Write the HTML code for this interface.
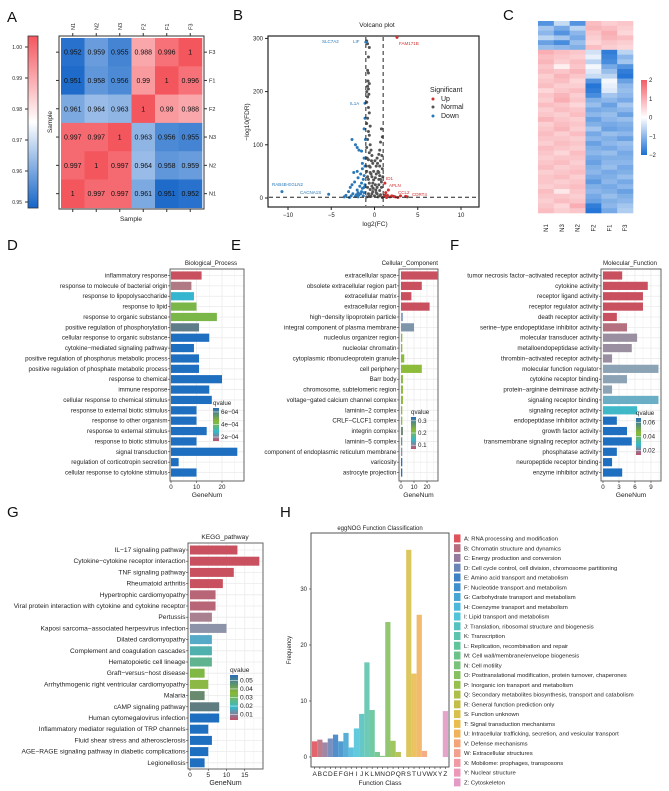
<!DOCTYPE html>
<html><head><meta charset="utf-8"><style>
html,body{margin:0;padding:0;background:#fff;}
svg{display:block;font-family:"Liberation Sans",Arial,sans-serif;}
</style></head><body>
<svg id="fig" width="669" height="791" viewBox="0 0 669 791" xmlns="http://www.w3.org/2000/svg">
<defs>
<linearGradient id="qgrad" x1="0" y1="0" x2="0" y2="1">
<stop offset="0" stop-color="#2b6cb3"/><stop offset="0.4" stop-color="#8ab832"/><stop offset="0.72" stop-color="#35b8cc"/><stop offset="1" stop-color="#c4506a"/>
</linearGradient>
<linearGradient id="agrad" x1="0" y1="1" x2="0" y2="0">
<stop offset="0" stop-color="#1565c8"/><stop offset="0.5" stop-color="#ffffff"/><stop offset="1" stop-color="#f4565e"/>
</linearGradient>
<linearGradient id="cgrad" x1="0" y1="1" x2="0" y2="0">
<stop offset="0" stop-color="#1a6fd4"/><stop offset="0.5" stop-color="#ffffff"/><stop offset="1" stop-color="#f25c66"/>
</linearGradient>
</defs>
<g font-size="15" fill="#111">
<text x="7" y="22">A</text>
<text x="233" y="20">B</text>
<text x="503" y="20">C</text>
<text x="7" y="250">D</text>
<text x="231" y="250">E</text>
<text x="450" y="250">F</text>
<text x="7" y="517">G</text>
<text x="280" y="517">H</text>
</g>
</svg>
<script>
// ===== Panel A data =====
const aSamplesCols = ['N1','N2','N3','F2','F1','F3'];
const aSamplesRows = ['F3','F1','F2','N3','N2','N1'];
const aMatrix = [
[0.952,0.959,0.955,0.988,0.996,1],
[0.951,0.958,0.956,0.99,1,0.996],
[0.961,0.964,0.963,1,0.99,0.988],
[0.997,0.997,1,0.963,0.956,0.955],
[0.997,1,0.997,0.964,0.958,0.959],
[1,0.997,0.997,0.961,0.951,0.952]];
const aTicks = [0.95,0.96,0.97,0.98,0.99,1.00];
// ===== Panel B data =====
const bNormal = [[-0.9,295],[-0.8,290],[-0.6,283],[-0.7,265],[-0.8,240],[-0.7,235],[-0.75,220],[-0.6,215],[-0.8,210],[-0.7,205],[-0.9,200],[-0.65,195],[-0.8,190],[-0.9,180],[-0.7,170],[-0.6,160],[-0.8,150],[-0.9,140],[-0.5,135],[-0.7,125],[-0.6,118],[0.8,130],[0.9,115],[0.7,105],[-0.8,110],[-0.5,100],[-0.9,95],[-0.4,90],[0.6,90],[0.5,82],[-0.6,85],[-0.3,80],[0.3,75],[-0.7,72],[0.7,70],[-0.2,65],[0.2,60],[0.9,55],[-0.5,58],[0.4,50],[-0.4,45],[0.6,42],[-0.8,40],[0.1,38],[-0.1,34],[0.8,30],[-0.6,28],[0.5,25],[-0.3,22],[0.3,20],[-0.5,16],[0.6,14],[-0.2,12],[0.2,10],[-0.7,8],[0.7,6],[0,4],[-0.4,3],[0.4,2],[0.9,1],[-0.9,2],[0.1,25],[-0.1,50],[0.05,70],[1.2,5],[3.8,2],[2.2,3],[0.5,35],[-0.3,40],[0.15,15],[-0.15,18],[-0.6,60],[0.6,60],[-0.5,48],[0.5,48],[-0.7,35],[0.7,35],[-0.8,20],[0.8,20],[-0.3,8],[0.3,8],[-0.6,4],[0.6,4],[0.2,45],[-0.2,28],[0.85,80],[-0.85,75],[-0.95,60],[0.95,40],[-0.9,50],[0.35,65],[-0.35,70]];
const bDown = [[-1.0,293],[-1.1,178],[-2.6,110],[-2.2,100],[-2.0,95],[-1.8,90],[-1.5,88],[-1.2,75],[-1.4,65],[-2.0,50],[-2.4,48],[-1.6,45],[-1.2,42],[-1.9,38],[-1.3,35],[-2.3,30],[-1.5,28],[-1.7,22],[-2.8,20],[-1.2,20],[-2.0,15],[-3.0,12],[-1.5,12],[-2.5,8],[-3.3,5],[-1.8,6],[-1.3,4],[-2.2,3],[-3.5,2],[-2.9,1],[-10.7,12],[-5.3,7],[-1.1,150],[-1.2,130],[-1.05,110],[-1.1,60],[-1.4,55],[-2.6,25],[-1.9,10],[-1.4,18],[-1.6,8],[-2.1,6],[-1.2,10],[-2.7,4],[-1.9,2],[-1.1,25]];
const bUp = [[2.6,302],[1.2,28],[1.6,15],[3.6,3],[1.3,10],[1.5,5],[2,4],[1.8,2],[2.4,2],[1.1,3],[3.0,4],[2.7,1],[1.4,1]];
const bXTicks = [-10,-5,0,5,10];
const bYTicks = [0,100,200,300];
// ===== Panel C data (cols N1,N3,N2,F2,F1,F3) =====
const cCols = ['N1','N3','N2','F2','F1','F3'];
const cRows = [
[-1.5,-0.5,-1.5,0.8,0.6,0.7],[-0.8,-1.2,-0.6,0.9,0.8,0.6],[-1.0,-1.5,-1.0,0.7,1.0,0.5],[-0.6,-0.8,-1.2,0.6,0.9,0.8],[-1.3,-1.6,-0.9,0.5,0.7,0.6],[-0.9,-1.0,-1.1,0.8,0.6,0.5],
[1.0,0.8,0.7,-0.4,-1.8,-0.6],[0.8,0.7,0.6,-0.2,-1.7,-1.0],[0.9,0.6,0.8,-0.6,-1.6,-0.8],[0.7,0.2,0.7,-0.1,-1.2,-1.5],[0.8,0.7,0.9,-0.3,-0.9,-1.8],[0.6,0.9,0.7,-0.5,-0.6,-1.9],
[0.7,0.8,0.5,-1.5,-0.1,-1.3],[0.8,0.6,0.6,-1.9,-0.2,-1.0],[0.5,0.7,0.8,-1.8,-0.3,-0.9],[0.7,0.9,0.6,-1.6,-0.8,-1.0],[0.6,1.0,0.7,-1.1,-1.0,-1.2],[0.8,0.7,0.5,-0.9,-1.3,-0.8],
[0.6,0.8,0.7,-1.2,-1.1,-1.0],[0.7,0.6,0.8,-1.0,-0.9,-1.3],[0.9,0.7,0.6,-1.3,-1.0,-0.9],[0.6,0.8,0.7,-1.1,-1.2,-1.1],[0.7,0.9,0.6,-0.8,-1.3,-1.2],[0.8,0.6,0.8,-1.2,-0.9,-1.0],
[0.7,0.7,0.6,-1.0,-1.1,-1.3],[0.6,0.8,0.7,-1.3,-1.0,-0.9],[0.8,0.7,0.6,-1.1,-1.2,-1.0],[0.7,0.5,0.8,-1.0,-0.9,-1.2],[0.6,0.7,0.7,-1.2,-1.1,-1.1],[0.7,0.8,0.6,-1.3,-1.0,-1.0],
[0.8,0.6,0.7,-1.1,-0.9,-1.2],[0.6,0.7,0.8,-1.0,-1.2,-1.1],[0.7,0.8,0.6,-1.2,-1.1,-0.9],[0.7,0.6,0.7,-1.4,-1.0,-1.2],[0.6,0.7,0.8,-1.1,-1.2,-1.0],[0.8,0.3,0.7,-1.0,-1.1,-1.3],
[0.7,0.7,0.6,-1.2,-0.9,-1.1],[0.6,0.8,0.7,-1.3,-1.1,-1.0],[0.7,0.5,1.0,-1.8,-1.0,-0.8],[0.8,0.6,0.7,-1.9,-1.2,-0.7]];
const cTicks = [-2,-1,0,1,2];
// ===== Panel D =====
const dLabels = ['inflammatory response','response to molecule of bacterial origin','response to lipopolysaccharide','response to lipid','response to organic substance','positive regulation of phosphorylation','cellular response to organic substance','cytokine\u2212mediated signaling pathway','positive regulation of phosphorus metabolic process','positive regulation of phosphate metabolic process','response to chemical','immune response','cellular response to chemical stimulus','response to external biotic stimulus','response to other organism','response to external stimulus','response to biotic stimulus','signal transduction','regulation of corticotropin secretion','cellular response to cytokine stimulus'];
const dValues = [12,8,9,10,18,11,15,9,11,11,20,15,16,10,10,14,10,26,3,10];
const dColors = ['#c9505f','#b07a85','#35b5d0','#7ab648','#7ab648','#5f7d88','#1e6fc0','#1e6fc0','#1e6fc0','#1e6fc0','#1e6fc0','#1e6fc0','#1e6fc0','#1e6fc0','#1e6fc0','#1e6fc0','#1e6fc0','#1e6fc0','#1e6fc0','#1e6fc0'];
const dTicks = [0,10,20];
const dLegend = ['6e\u221204','4e\u221204','2e\u221204'];
// ===== Panel E =====
const eLabels = ['extracellular space','obsolete extracellular region part','extracellular matrix','extracellular region','high\u2212density lipoprotein particle','integral component of plasma membrane','nucleolus organizer region','nucleolar chromatin','cytoplasmic ribonucleoprotein granule','cell periphery','Barr body','chromosome, subtelomeric region','voltage\u2212gated calcium channel complex','laminin\u22122 complex','CRLF\u2212CLCF1 complex','integrin complex','laminin\u22125 complex','component of endoplasmic reticulum membrane','varicosity','astrocyte projection'];
const eValues = [28,16,8,22,1.5,10,1,1,2.5,16,1.5,1.5,1.5,1,1,1.5,1,1,1,1];
const eColors = ['#c9505f','#c9505f','#c9505f','#c9505f','#8fa3c0','#7f95aa','#8dbb3a','#8dbb3a','#8dbb3a','#8dbb3a','#8dbb3a','#8dbb3a','#8dbb3a','#8dbb3a','#8dbb3a','#6f8a78','#6a8f92','#7f95aa','#2a70c0','#2a70c0'];
const eTicks = [0,10,20];
const eLegend = ['0.3','0.2','0.1'];
// ===== Panel F =====
const fLabels = ['tumor necrosis factor\u2212activated receptor activity','cytokine activity','receptor ligand activity','receptor regulator activity','death receptor activity','serine\u2212type endopeptidase inhibitor activity','molecular transducer activity','metalloendopeptidase activity','thrombin\u2212activated receptor activity','molecular function regulator','cytokine receptor binding','protein\u2212arginine deiminase activity','signaling receptor binding','signaling receptor activity','endopeptidase inhibitor activity','growth factor activity','transmembrane signaling receptor activity','phosphatase activity','neuropeptide receptor binding','enzyme inhibitor activity'];
const fValues = [3.6,8.4,7.5,7.5,2.6,4.5,6.4,5.4,1.7,10.4,4.5,1.7,10.4,6.4,2.6,4.5,5.4,2.6,1.7,3.6];
const fColors = ['#c9505f','#c9505f','#c9505f','#c9505f','#c9505f','#b5707f','#9a8fa0','#9a8fa0','#9a8fa0','#8ba3b5','#8ba3b5','#8ba3b5','#6aaec5','#3fb8c8','#1e6fc0','#1e6fc0','#1e6fc0','#1e6fc0','#1e6fc0','#1e6fc0'];
const fTicks = [0,3,6,9];
const fLegend = ['0.06','0.04','0.02'];
// ===== Panel G =====
const gLabels = ['IL\u221217 signaling pathway','Cytokine\u2212cytokine receptor interaction','TNF signaling pathway','Rheumatoid arthritis','Hypertrophic cardiomyopathy','Viral protein interaction with cytokine and cytokine receptor','Pertussis','Kaposi sarcoma\u2212associated herpesvirus infection','Dilated cardiomyopathy','Complement and coagulation cascades','Hematopoietic cell lineage','Graft\u2212versus\u2212host disease','Arrhythmogenic right ventricular cardiomyopathy','Malaria','cAMP signaling pathway','Human cytomegalovirus infection','Inflammatory mediator regulation of TRP channels','Fluid shear stress and atherosclerosis','AGE\u2212RAGE signaling pathway in diabetic complications','Legionellosis'];
const gValues = [13,19,12,9,7,7,6,10,6,6,6,4,5,4,8,8,5,6,5,4];
const gColors = ['#c9505f','#c9505f','#c9505f','#c9505f','#b86577','#b86577','#a88090','#8d93a8','#55aac8','#4fb0ad','#5fb38f','#7fb844','#8cb845','#6a8a70','#5f7d80','#1e6fc0','#1e6fc0','#1e6fc0','#1e6fc0','#1e6fc0'];
const gTicks = [0,5,10,15];
const gLegend = ['0.05','0.04','0.03','0.02','0.01'];
// ===== Panel H =====
const hClasses = ['A','B','C','D','E','F','G','H','I','J','K','L','M','N','O','P','Q','R','S','T','U','V','W','X','Y','Z'];
const hValues = [2.8,3.1,2.6,3.3,4,2.8,4.3,1.7,5.1,7.7,16.9,8.4,0.9,0.2,24.1,2.9,0.9,0,37,14.9,25.4,1.1,0,0,0,8.2];
const hNames = ['RNA processing and modification','Chromatin structure and dynamics','Energy production and conversion','Cell cycle control, cell division, chromosome partitioning','Amino acid transport and metabolism','Nucleotide transport and metabolism','Carbohydrate transport and metabolism','Coenzyme transport and metabolism','Lipid transport and metabolism','Translation, ribosomal structure and biogenesis','Transcription','Replication, recombination and repair','Cell wall/membrane/envelope biogenesis','Cell motility','Posttranslational modification, protein turnover, chaperones','Inorganic ion transport and metabolism','Secondary metabolites biosynthesis, transport and catabolism','General function prediction only','Function unknown','Signal transduction mechanisms','Intracellular trafficking, secretion, and vesicular transport','Defense mechanisms','Extracellular structures','Mobilome: prophages, transposons','Nuclear structure','Cytoskeleton'];
const hColors = ['#e0535d','#b86e7e','#957a9e','#6b85b8','#3d82c6','#3e90cc','#45a5d3','#4db8dc','#50c4d8','#55c2c0','#5cc4ae','#62c49a','#6cc38a','#79c37a','#86c060','#97c04d','#aebe48','#c4bd4a','#d8c04c','#e9bc4f','#f0b35c','#f3a47a','#f4a08e','#f09aa6','#ec98b8','#e39ac4'];
const hTicks = [0,10,20,30];

const NS='http://www.w3.org/2000/svg';
const svg=document.getElementById('fig');
function mk(tag,attrs,parent){const e=document.createElementNS(NS,tag);for(const k in attrs)e.setAttribute(k,attrs[k]);(parent||svg).appendChild(e);return e;}
function txt(x,y,s,size,extra,parent){const t=mk('text',Object.assign({x:x,y:y,'font-size':size,fill:'#222'},extra||{}),parent);t.textContent=s;return t;}
function lerp(a,b,t){return a+(b-a)*t;}
function hex(c){return [parseInt(c.slice(1,3),16),parseInt(c.slice(3,5),16),parseInt(c.slice(5,7),16)];}
function div(v,lo,hi,cLo,cHi){let t=(v-lo)/(hi-lo);t=Math.max(0,Math.min(1,t));const w=[255,255,255];let a,b,u;if(t<0.5){a=hex(cLo);b=w;u=t/0.5;}else{a=w;b=hex(cHi);u=(t-0.5)/0.5;}return 'rgb('+[0,1,2].map(i=>Math.round(lerp(a[i],b[i],u))).join(',')+')';}

// ===== Panel A =====
(function(){
const g=mk('g',{});


const X0=61,Y0=38,W=23.5,H=28.3;
mk('rect',{x:59,y:36,width:145,height:173,fill:'#fff',stroke:'#333','stroke-width':1},g);
aMatrix.forEach((row,r)=>row.forEach((v,c)=>{
 const rc=mk('rect',{x:X0+c*W,y:Y0+r*H,width:W+0.3,height:H+0.3,fill:div(v,0.95,1.0,'#1565c8','#f4565e')},g);
 
 
 txt(X0+c*W+W/2,Y0+r*H+H/2+2.5,String(v),7,{'text-anchor':'middle',fill:'#111'},g);
}));
aSamplesCols.forEach((s,c)=>{const x=X0+c*W+W/2;mk('line',{x1:x,y1:209,x2:x,y2:212,stroke:'#333'},g);mk('line',{x1:x,y1:33,x2:x,y2:36,stroke:'#333'},g);
 txt(x+2,30,s,5.5,{transform:'rotate(-90 '+(x+2)+' 30)'},g);});
aSamplesRows.forEach((s,r)=>{const y=Y0+r*H+H/2;mk('line',{x1:204,y1:y,x2:207,y2:y,stroke:'#333'},g);mk('line',{x1:56,y1:y,x2:59,y2:y,stroke:'#333'},g);txt(209,y+2,s,5.5,{},g);});
txt(131,221,'Sample',6.5,{'text-anchor':'middle'},g);
txt(52,122,'Sample',6.5,{'text-anchor':'middle',transform:'rotate(-90 52 122)'},g);
const cb=mk('rect',{x:28,y:36,width:10,height:172,fill:'url(#agrad)',stroke:'#333','stroke-width':0.8},g);


aTicks.forEach(t=>{const y=202-(t-0.95)/0.05*155;mk('line',{x1:25,y1:y,x2:28,y2:y,stroke:'#333'},g);txt(22,y+2,t.toFixed(2),5,{'text-anchor':'end'},g);});
})();

// ===== Panel B =====
(function(){
const g=mk('g',{});


const sx=v=>374.5+v*8.65, sy=v=>198-v*0.532;
mk('rect',{x:268,y:36,width:211,height:171,fill:'#fff',stroke:'#222','stroke-width':1.2},g);
txt(377,27,'Volcano plot',6.5,{'text-anchor':'middle'},g);
function pts(arr,col,name){arr.forEach(p=>{const c=mk('circle',{cx:sx(p[0]),cy:sy(p[1]),r:1.5,fill:col},g);});}
pts(bNormal,'#555555','normal-gene-point');
pts(bDown,'#2a78b8','down-gene-point');
pts(bUp,'#d0302e','up-gene-point');
mk('line',{x1:sx(-1),y1:37,x2:sx(-1),y2:206,stroke:'#222','stroke-dasharray':'4 3'},g);
mk('line',{x1:sx(1),y1:37,x2:sx(1),y2:206,stroke:'#222','stroke-dasharray':'4 3'},g);
mk('line',{x1:269,y1:sy(1.3),x2:478,y2:sy(1.3),stroke:'#222','stroke-dasharray':'4 3'},g);
bXTicks.forEach(t=>{const x=sx(t);mk('line',{x1:x,y1:207,x2:x,y2:210,stroke:'#222'},g);txt(x,217,t<0?'\u2212'+(-t):String(t),6,{'text-anchor':'middle'},g);});
bYTicks.forEach(t=>{const y=sy(t);mk('line',{x1:265,y1:y,x2:268,y2:y,stroke:'#222'},g);txt(263,y+2,String(t),6,{'text-anchor':'end'},g);});
txt(375,226,'log2(FC)',6.5,{'text-anchor':'middle'},g);
txt(249,122,'\u2212log10(FDR)',6.5,{'text-anchor':'middle',transform:'rotate(-90 249 122)'},g);
[['SLC7A2',322,43,'#2a78b8'],['LIF',353,43,'#2a78b8'],['FAM171B',399,45,'#d0302e'],['IL1A',350,105,'#2a78b8'],['RAB4B-EGLN2',272,186,'#2a78b8'],['CACNA1S',300,194,'#2a78b8'],['ID1',386,180,'#d0302e'],['APLN',389,187,'#d0302e'],['CCL2',398,194,'#d0302e'],['CDRT4',412,196,'#d0302e']].forEach(l=>txt(l[1],l[2],l[0],4.5,{fill:l[3]},g));
txt(430,92,'Significant',7,{},g);
[['Up','#d0302e',101],['Normal','#555',109],['Down','#2a78b8',118]].forEach(l=>{mk('circle',{cx:433,cy:l[2]-2,r:1.5,fill:l[1]},g);txt(441,l[2],l[0],7,{},g);});
})();

// ===== Panel C =====
(function(){
const g=mk('g',{});


const X0=538,Y0=21,W=(633-538)/6,H=(213-21)/cRows.length;
cRows.forEach((row,r)=>row.forEach((v,c)=>{const rc=mk('rect',{x:X0+c*W,y:Y0+r*H,width:W+0.3,height:H+0.3,fill:div(v,-2,2,'#1a6fd4','#f25c66')},g);}));
cCols.forEach((s,c)=>{const x=X0+c*W+W/2+2;txt(x,228,s,6,{transform:'rotate(-90 '+x+' 228)','text-anchor':'middle'},g);});
mk('rect',{x:641,y:80,width:6,height:75,fill:'url(#cgrad)'},g);
cTicks.forEach(t=>{const y=155-(t+2)/4*75;txt(649,y+2,t<0?'\u2212'+(-t):String(t),6,{},g);});
})();

// ===== bar chart helper =====
function barChart(o){
 const g=mk('g',{});
 
 
 mk('rect',{x:o.bx0,y:o.by0,width:o.bx1-o.bx0,height:o.by1-o.by0,fill:'#fff'},g);
 const sx=v=>o.zero+v*o.ppu;
 const half=(o.ticks[1]-o.ticks[0])/2;
 for(let t=0;sx(t)<o.bx1;t+=half){mk('line',{x1:sx(t),y1:o.by0,x2:sx(t),y2:o.by1,stroke:'#ebebeb','stroke-width':t%(half*2)===0?0.8:0.4},g);}
 o.labels.forEach((l,i)=>{const y=o.row0+i*o.step;mk('line',{x1:o.bx0,y1:y,x2:o.bx1,y2:y,stroke:'#ebebeb','stroke-width':0.8},g);});
 o.labels.forEach((l,i)=>{const y=o.row0+i*o.step;
  const b=mk('rect',{x:sx(0),y:y-o.bh/2,width:Math.max(0,o.values[i]*o.ppu),height:o.bh,fill:o.colors[i]},g);
  
  
  mk('line',{x1:o.bx0-2,y1:y,x2:o.bx0,y2:y,stroke:'#333','stroke-width':0.6},g);
  txt(o.bx0-2.5,y+2,l,o.fs,{'text-anchor':'end'},g);});
 mk('rect',{x:o.bx0,y:o.by0,width:o.bx1-o.bx0,height:o.by1-o.by0,fill:'none',stroke:'#555','stroke-width':0.9},g);
 o.ticks.forEach(t=>{const x=sx(t);mk('line',{x1:x,y1:o.by1,x2:x,y2:o.by1+2,stroke:'#333','stroke-width':0.6},g);txt(x,o.by1+8,String(t),o.fs,{'text-anchor':'middle'},g);});
 txt((o.bx0+o.bx1)/2,o.by1+16,'GeneNum',o.fs+0.5,{'text-anchor':'middle'},g);
 txt(o.titleX,o.by0-4,o.title,o.fs,{'text-anchor':o.titleAnchor},g);
 const L=o.leg;
 txt(L.x,L.y-3,'qvalue',o.fs,{},g);
 const lr=mk('rect',{x:L.x,y:L.y,width:L.w,height:L.h,fill:'url(#qgrad)'},g);
 
 
 o.legLabels.forEach((s,i)=>{const y=L.y+L.h*(0.12+i*(0.76/(o.legLabels.length-1)));mk('line',{x1:L.x,y1:y,x2:L.x+L.w,y2:y,stroke:'#fff','stroke-width':0.5},g);txt(L.x+L.w+2,y+2,s,o.fs,{},g);});
}
barChart({name:'biological-process-chart',labels:dLabels,values:dValues,colors:dColors,ticks:dTicks,bx0:170,bx1:244,by0:269,by1:481,zero:171,ppu:2.55,row0:275.5,step:10.37,bh:8.2,fs:6.2,title:'Biological_Process',titleX:211,titleAnchor:'middle',leg:{x:213,y:408,w:6,h:33},legLabels:dLegend});
barChart({name:'cellular-component-chart',labels:eLabels,values:eValues,colors:eColors,ticks:eTicks,bx0:399,bx1:438,by0:269,by1:481,zero:401,ppu:1.3,row0:275.5,step:10.37,bh:8.2,fs:6.2,title:'Cellular_Component',titleX:438,titleAnchor:'end',leg:{x:411,y:417,w:5,h:32},legLabels:eLegend});
barChart({name:'molecular-function-chart',labels:fLabels,values:fValues,colors:fColors,ticks:fTicks,bx0:601,bx1:661,by0:269,by1:481,zero:603,ppu:5.33,row0:275.5,step:10.37,bh:8.2,fs:6.2,title:'Molecular_Function',titleX:630,titleAnchor:'middle',leg:{x:636,y:418,w:5,h:37},legLabels:fLegend});
barChart({name:'kegg-pathway-chart',labels:gLabels,values:gValues,colors:gColors,ticks:gTicks,bx0:188,bx1:263,by0:543,by1:769,zero:190,ppu:3.65,row0:550,step:11.2,bh:9,fs:6.6,title:'KEGG_pathway',titleX:225,titleAnchor:'middle',leg:{x:230,y:675,w:8,h:45},legLabels:gLegend});

// ===== Panel H =====
(function(){
const g=mk('g',{});


const bx0=311,bx1=449,by0=533,by1=767;
const bw=(bx1-bx0-2)/hClasses.length;
const sy=v=>757-v*5.6;
mk('rect',{x:bx0,y:by0,width:bx1-bx0,height:by1-by0,fill:'#fff',stroke:'#444','stroke-width':0.9},g);
hClasses.forEach((c,i)=>{const x=bx0+1+i*bw;
 const b=mk('rect',{x:x,y:sy(hValues[i]),width:bw,height:hValues[i]*5.6,fill:hColors[i],'fill-opacity':0.9},g);
 
 
 mk('line',{x1:x+bw/2,y1:by1,x2:x+bw/2,y2:by1+2,stroke:'#333','stroke-width':0.6},g);
 txt(x+bw/2,by1+9,c,6.5,{'text-anchor':'middle'},g);});
hTicks.forEach(t=>{const y=sy(t);mk('line',{x1:bx0-2,y1:y,x2:bx0,y2:y,stroke:'#333','stroke-width':0.6},g);txt(bx0-4,y+2,String(t),6,{'text-anchor':'end'},g);});
txt(380,530,'eggNOG Function Classification',6,{'text-anchor':'middle'},g);
txt(380,785,'Function Class',6.5,{'text-anchor':'middle'},g);
txt(291,650,'Frequency',6,{'text-anchor':'middle',transform:'rotate(-90 291 650)'},g);
hClasses.forEach((c,i)=>{const y=538+i*9.76;
 const s=mk('rect',{x:454,y:y-3.6,width:6.5,height:8,fill:hColors[i]},g);
 
 
 txt(464,y+2.5,c+': '+hNames[i],5.9,{},g);});
})();
</script>
</body></html>
